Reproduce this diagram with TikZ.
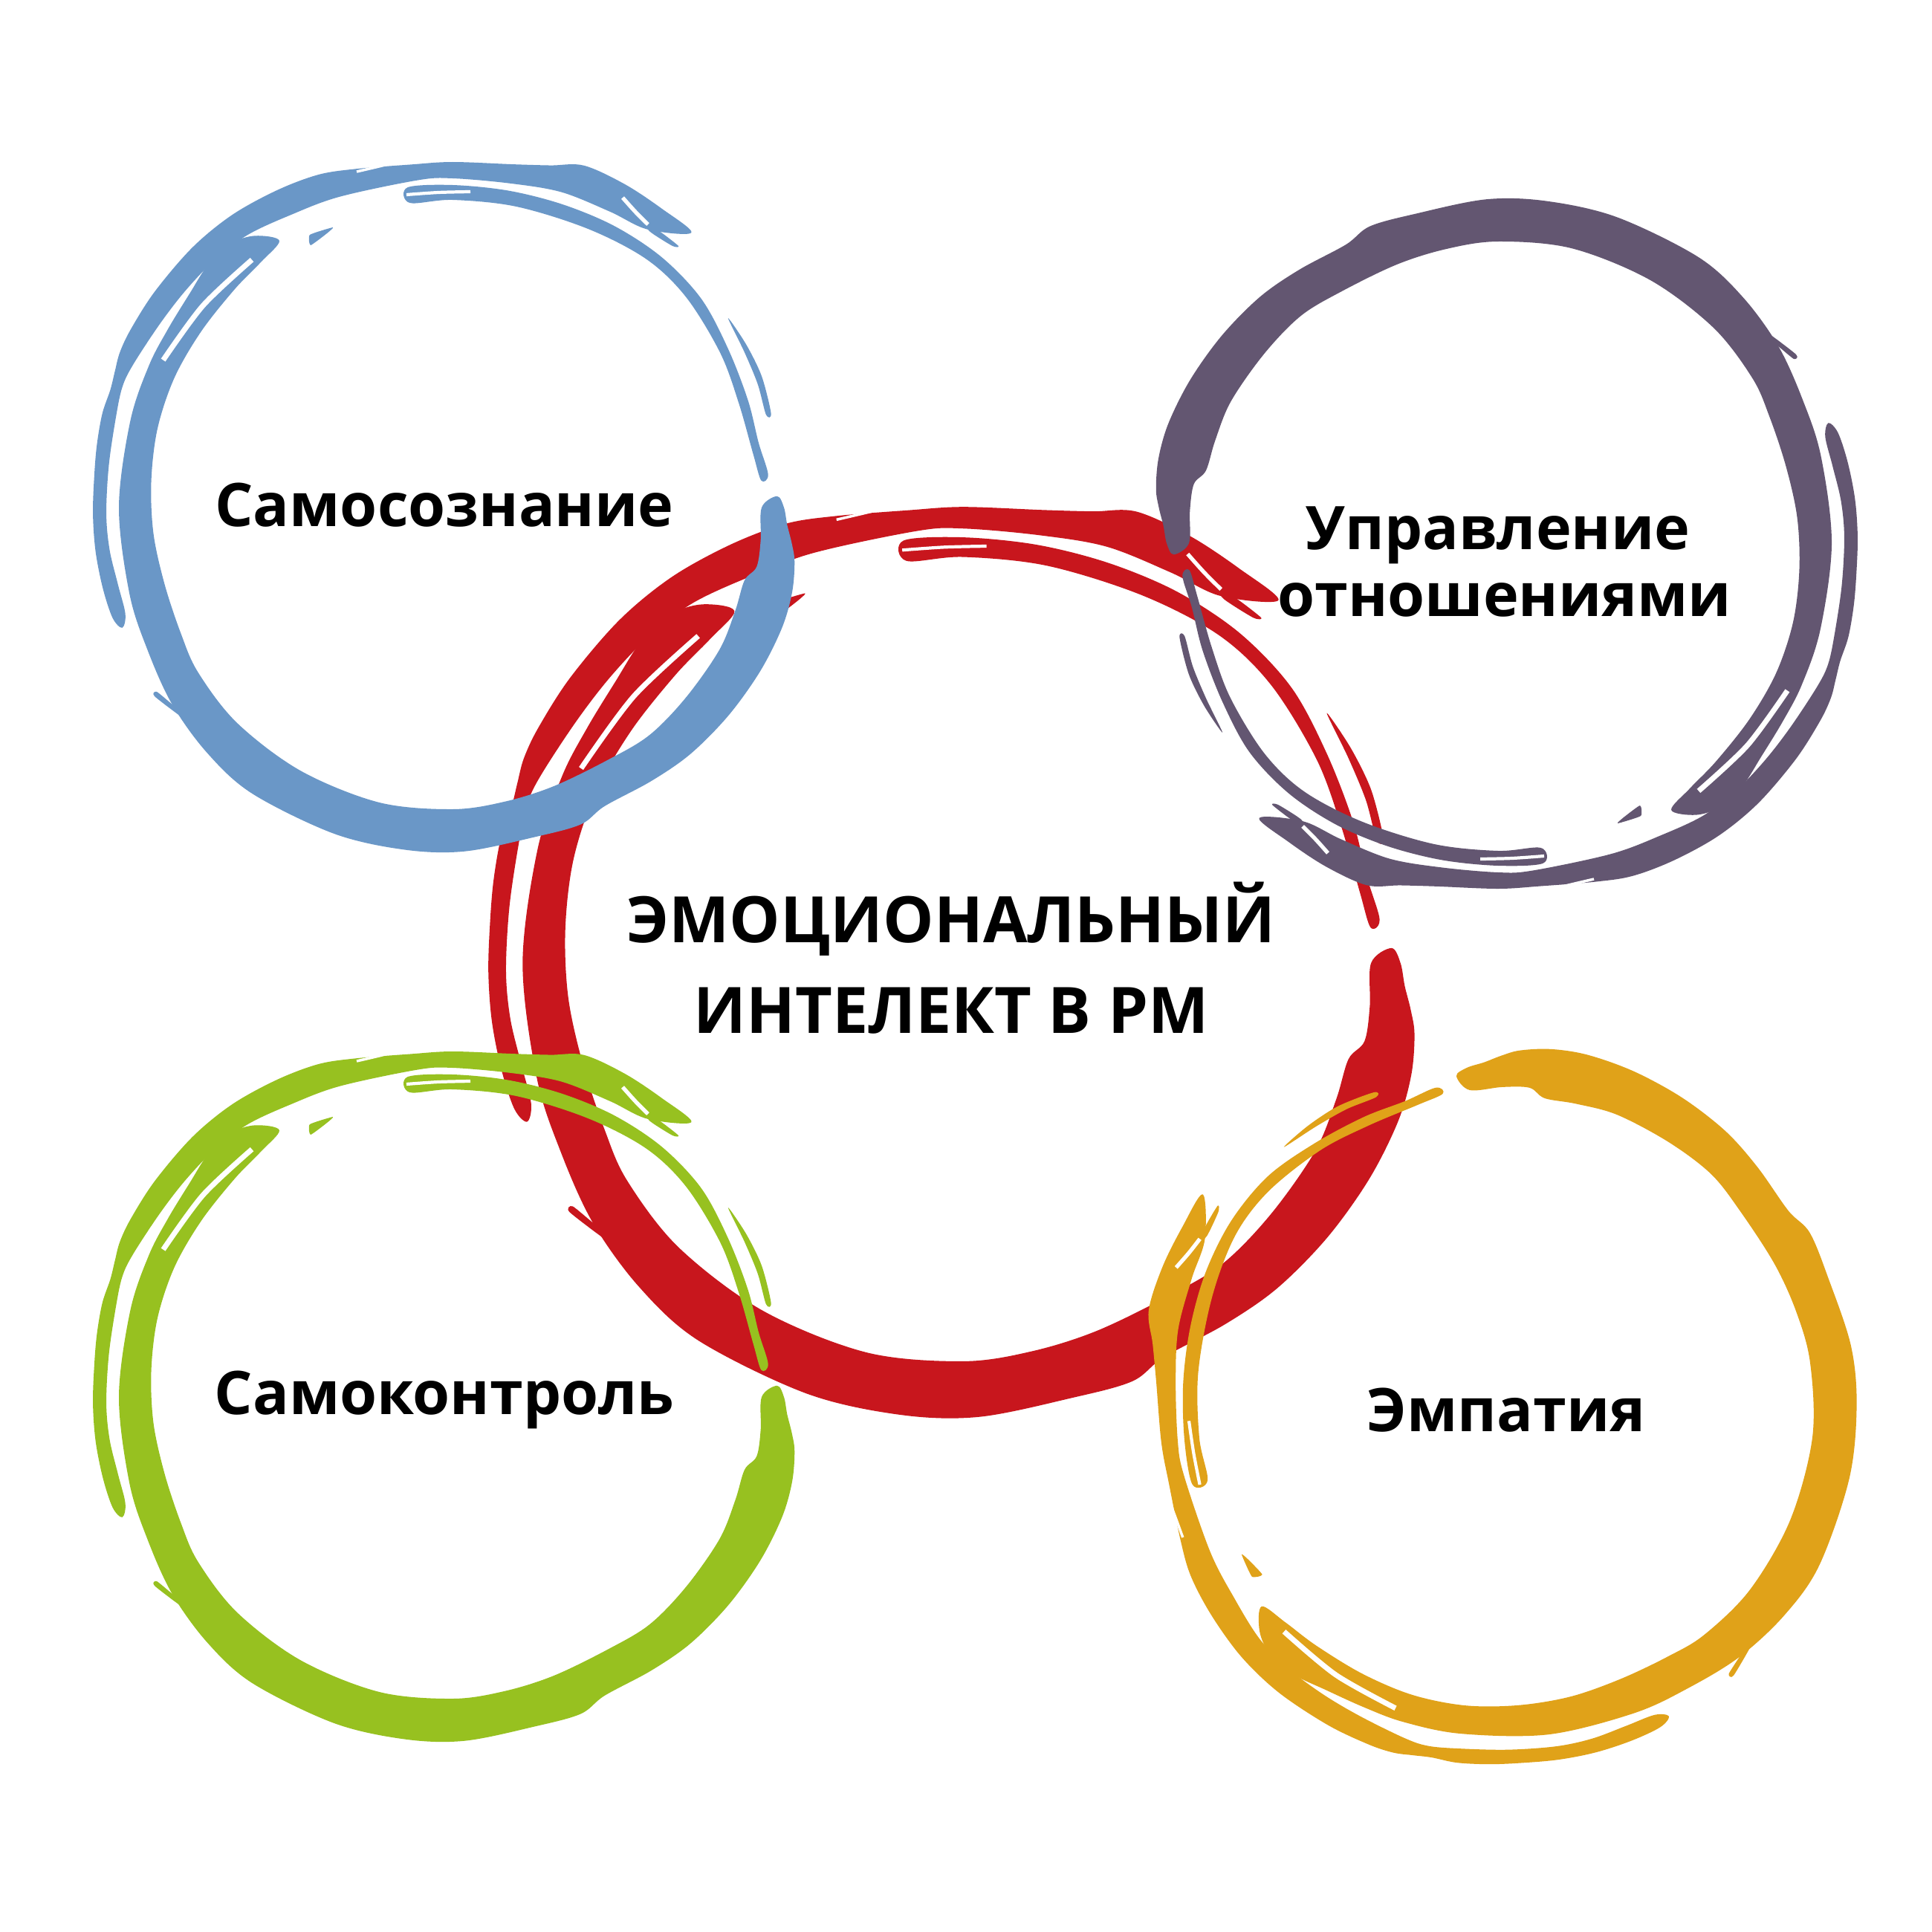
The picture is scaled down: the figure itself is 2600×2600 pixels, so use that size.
\documentclass[tikz,border=0pt]{standalone}
\usepackage{fontspec}
\setmainfont{Open Sans}
\definecolor{cblue}{RGB}{106,151,199}
\definecolor{cpurple}{RGB}{99,86,113}
\definecolor{cred}{RGB}{200,22,29}
\definecolor{cgreen}{RGB}{151,193,32}
\definecolor{corange}{RGB}{224,162,25}
\tikzset{
  lbl/.style={font=\fontsize{23}{28}\selectfont\bfseries, inner sep=0pt, anchor=base, text=black},
  biglbl/.style={lbl, font=\fontsize{24.5}{29}\selectfont\bfseries},
  gapline/.style={draw=white, line cap=butt},
}
% brush ring template; origin = ring centre, polar angles in the usual (counter-clockwise) sense
\newcommand{\brushring}[1]{%
  \begin{scope}[yscale=-1]
  % outer band (top and outer left stroke)
  \fill[#1] plot[smooth cycle, tension=0.55] coordinates {(49:490) (55:491) (62:493) (69:493) (74:479) (80:469) (90:465) (97:465) (106:474) (112:483) (119:488) (127:493) (135:495) (144:495) (151:495) (155:494) (158:490) (161:487) (165:488) (170:486) (175:484) (181:484) (187:484) (193:483) (198:481) (200:473) (198:463) (193:462) (187:465) (181:466) (173:466) (165:469) (160:473) (156:471) (148:465) (141:463) (134:462) (127:459) (119:450) (110:445) (96:443) (90:443) (80:443) (71:449) (62:451) (55:457)};
  % main thick band
  \fill[#1] plot[smooth cycle, tension=0.55] coordinates {(123:428) (126:452) (130:464) (135:464) (141:456) (148:452) (155:451) (165:449) (180:449) (195:450) (205:453) (215:461) (225:467) (235:470) (250:467) (262:465) (272:463) (284:457) (292:460) (297:451) (306:455) (314:461) (323:465) (332:469) (340:472) (346:471) (351:466) (354:459) (357:451) (360:446) (362:437) (360:416) (354:417) (349:417) (346:405) (340:405) (332:407) (321:405) (311:405) (302:399) (290:399) (280:402) (270:406) (256:409) (240:409) (225:410) (213:408) (205:403) (195:401) (185:404) (175:407) (165:411) (155:413) (145:413) (135:415) (128:419)};
  % inner top stroke
  \fill[#1] plot[smooth cycle, tension=0.55] coordinates {(98:435) (90:434) (80:433) (70:434) (60:437) (50:439) (40:437) (30:428) (20:423) (12:421) (6:427) (5:417) (10:411) (20:410) (30:416) (42:423) (52:424) (64:417) (78:414) (90:414) (98:414)};
  % thin right stroke
  \fill[#1] plot[smooth cycle, tension=0.5] coordinates {(34.5:450) (29:452) (23:452) (16.5:447) (16.5:440) (22:443) (28:445)};
  % gap inside the main band
  \draw[gapline, line width=2pt] plot[smooth] coordinates {(129:429) (141:432) (153:437)};
  \end{scope}
  \begin{scope}[shift={(-609,-683)}]
  % small dash
  \fill[#1] plot[smooth cycle, tension=0.3] coordinates {(417,316) (448,306) (440,314) (418,330)};
  % fray tail
  \fill[#1] plot[smooth cycle, tension=0.4] coordinates {(865,297) (890,313) (913,331) (905,331) (875,312)};
  % bottom-left thin stroke
  \fill[#1] plot[smooth cycle, tension=0.4] coordinates {(211,931) (232,948) (254,964) (249,968) (208,937)};
  % gaps
  \draw[gapline, line width=1.2pt] plot[smooth] coordinates {(547,262) (590,259) (633,258)};
  \draw[gapline, line width=1.5pt] plot[smooth] coordinates {(838,266) (855,285) (872,302)};
  \draw[gapline, line width=1pt] plot[smooth] coordinates {(480,231) (510,224) (530,219)};
  \end{scope}
}
\begin{document}
\begin{tikzpicture}[x=0.01cm, y=-0.01cm]
  \useasboundingbox (0,0) rectangle (2600,2600);
  \fill[white] (0,0) rectangle (2600,2600);
  % red ring (centre)
  \begin{scope}[shift={(1296,1296)}, scale=1.32]
    \brushring{cred}
  \end{scope}
  % blue ring (top left)
  \begin{scope}[shift={(609,683)}]
    \brushring{cblue}
  \end{scope}
  % purple ring (top right)
  \begin{scope}[shift={(2016,731)}, rotate=180]
    \brushring{cpurple}
  \end{scope}
  % green ring (bottom left)
  \begin{scope}[shift={(609,1880)}]
    \brushring{cgreen}
  \end{scope}
  % orange ring (bottom right)
  \begin{scope}[shift={(2029,1884)}, rotate=97, scale=1.01]
    \brushring{corange}
  \end{scope}
  % labels
  \node[lbl] (selfaware) at (598,708) {Самосознание};
  \node[lbl] (selfctrl) at (598,1903) {Самоконтроль};
  \node[lbl] (relA) at (2016,739) {Управление};
  \node[lbl] (relB) at (2025,829) {отношениями};
  \node[lbl] (empathy) at (2027,1926) {Эмпатия};
  \node[biglbl] (eiA) at (1280,1268) {ЭМОЦИОНАЛЬНЫЙ};
  \node[biglbl] (eiB) at (1280,1390) {ИНТЕЛЕКТ В РМ};
\end{tikzpicture}
\end{document}
